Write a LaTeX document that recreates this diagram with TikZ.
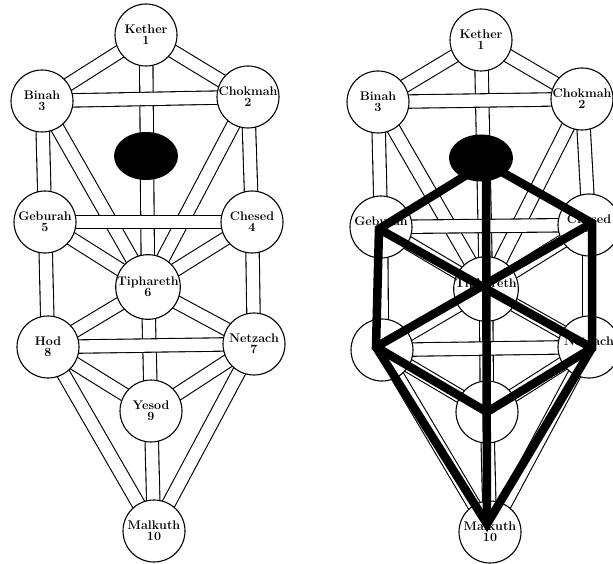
\documentclass[tikz,border=0pt]{standalone}
\usetikzlibrary{backgrounds}
\begin{document}
\begin{tikzpicture}[x=1pt,y=-1pt,
  sephira/.style={circle,draw=black,line width=1.1pt,fill=white,minimum size=62pt,inner sep=0pt,align=center,font=\fontsize{12.5}{11}\selectfont\bfseries},
  channel/.style={draw=black,line width=1.1pt,double=white,double distance=12.3pt},
  hexline/.style={draw=black,line width=8.5pt,line join=miter}]
\useasboundingbox (0,0) rectangle (613,564);
% ---------------- left tree ----------------
\node[sephira] (L1) at (146,35) {Kether\\1};
\node[sephira] (L2) at (248,97) {Chokmah\\2};
\node[sephira] (L3) at (42,101) {Binah\\3};
\node[sephira] (L4) at (252,222) {Chesed\\4};
\node[sephira] (L5) at (45,222) {Geburah\\5};
\node[sephira] (L6) at (148,287) {Tiphareth\\6};
\node[sephira] (L7) at (254,344) {Netzach\\7};
\node[sephira] (L8) at (48,347) {Hod\\8};
\node[sephira] (L9) at (151,411) {Yesod\\9};
\node[sephira] (L10) at (154,531) {Malkuth\\10};
% ---------------- right tree ----------------
\node[sephira] (R1) at (481,40) {Kether\\1};
\node[sephira] (R2) at (582,99) {Chokmah\\2};
\node[sephira] (R3) at (378,102) {Binah\\3};
\node[sephira] (R4) at (589,225) {Chesed\\4};
\node[sephira] (R5) at (381,227) {Geburah\\5};
\node[sephira] (R6) at (486,289) {Tiphareth\\6};
\node[sephira] (R7) at (589,347) {Netzach\\7};
\node[sephira] (R8) at (382,350) {};
\node[sephira] (R9) at (487,412) {};
\node[sephira] (R10) at (490,532) {Malkuth\\10};
\begin{pgfonlayer}{background}
\fill[white] (0,0) rectangle (613,564);
\foreach \t in {L,R}{
  \foreach \a/\b in {1/3,1/2,1/6,2/6,3/6,2/4,3/5,4/6,5/6,4/7,5/8,6/7,6/8,6/9,7/9,8/9,7/10,8/10,9/10,2/3,4/5,7/8}{
    \draw[channel] (\t\a.center) -- (\t\b.center);
  }
}
\end{pgfonlayer}
% Daath
\fill[black] (146,156) ellipse [x radius=32, y radius=24];
\fill[black] (481,158) ellipse [x radius=32, y radius=23.5];
% thick overlay on right tree
\coordinate (T0) at (486,163);
\coordinate (GV) at (379,229);
\coordinate (CV) at (592,223);
\coordinate (HV) at (376,347);
\coordinate (NV) at (592,348);
\coordinate (YV) at (487,412);
\coordinate (MV) at (487,524);
\draw[hexline] (T0) -- (GV) -- (HV) -- (YV) -- (NV) -- (CV) -- cycle;
\draw[hexline] (GV) -- (NV);
\draw[hexline] (CV) -- (HV);
\draw[hexline] (T0) -- (MV);
\draw[hexline] (HV) -- (MV) -- (NV);
\end{tikzpicture}
\end{document}
